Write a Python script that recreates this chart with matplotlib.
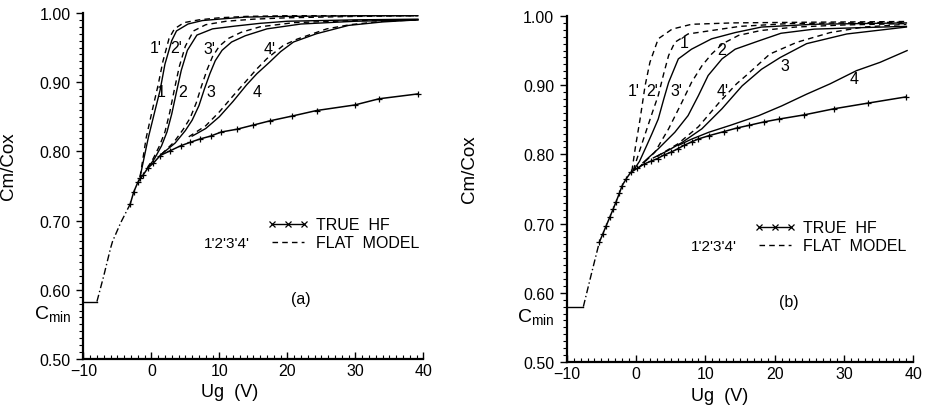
import matplotlib
matplotlib.use("Agg")
import matplotlib.pyplot as plt
from matplotlib.lines import Line2D
from matplotlib.ticker import MultipleLocator, FormatStrFormatter

plt.rcParams['font.family'] = ['Liberation Sans', 'DejaVu Sans']
plt.rcParams['mathtext.default'] = 'regular'

# ---------------- panel (a) ----------------
a_flat_ug = [-10, -8.0]
a_flat_c = [0.583, 0.583]
a_tail_ug = [-8.0, -7.0, -6.0, -5.7, -4.5, -3.1]
a_tail_c = [0.583, 0.620, 0.660, 0.670, 0.697, 0.724]

a_hf_ug = [-3.1, -2.6, -2.0, -1.6, -1.2, -0.5, 0.3, 1.3, 2.8, 4.3, 5.7, 7.2, 8.7,
           10.3, 12.6, 15.0, 17.4, 20.7, 24.3, 29.9, 33.5, 39.2]
a_hf_c = [0.724, 0.741, 0.755, 0.761, 0.766, 0.776, 0.783, 0.794, 0.801, 0.808, 0.813,
          0.818, 0.822, 0.828, 0.832, 0.838, 0.844, 0.851, 0.859, 0.867, 0.876, 0.883]

a_1_ug = [-1.66, -0.44, 0.54, 1.28, 2.0, 3.0, 3.7, 5.4, 7.5, 9.9, 13.8, 20, 30, 39.2]
a_1_c = [0.763, 0.820, 0.859, 0.888, 0.926, 0.960, 0.974, 0.984, 0.989, 0.991, 0.994, 0.995, 0.996, 0.996]
a_1p_ug = [-1.66, -0.75, 0.2, 1.0, 1.7, 2.6, 3.4, 4.8, 7, 10, 14, 20, 30, 39.2]
a_1p_c = [0.763, 0.820, 0.862, 0.896, 0.930, 0.963, 0.977, 0.986, 0.990, 0.993, 0.995, 0.996, 0.996, 0.996]

a_2_ug = [-0.5, 0.5, 1.5, 2.3, 3.0, 3.7, 4.4, 5.3, 6.7, 9.0, 12.3, 16, 20, 30, 39.2]
a_2_c = [0.776, 0.790, 0.808, 0.828, 0.854, 0.886, 0.917, 0.946, 0.968, 0.977, 0.981, 0.985, 0.988, 0.990, 0.991]
a_2p_ug = [-0.6, 0.3, 1.2, 2.0, 2.7, 3.4, 4.1, 5.0, 6.2, 8, 11, 15, 20, 30, 39.2]
a_2p_c = [0.776, 0.790, 0.808, 0.828, 0.856, 0.890, 0.922, 0.952, 0.974, 0.983, 0.988, 0.991, 0.993, 0.995, 0.996]

a_3_ug = [1.5, 3.5, 5.0, 6.0, 7.0, 7.8, 8.6, 9.4, 10.4, 11.8, 13.8, 17, 22, 30, 39.2]
a_3_c = [0.796, 0.812, 0.830, 0.845, 0.866, 0.890, 0.912, 0.931, 0.946, 0.958, 0.967, 0.977, 0.984, 0.988, 0.990]
a_3p_ug = [1.5, 3.3, 4.7, 5.7, 6.6, 7.4, 8.2, 9.0, 10.0, 11.3, 13.2, 16, 21, 30, 39.2]
a_3p_c = [0.796, 0.813, 0.832, 0.848, 0.870, 0.895, 0.918, 0.937, 0.952, 0.963, 0.972, 0.980, 0.986, 0.989, 0.990]

a_4_ug = [6.0, 8, 10, 12, 14, 15.5, 17.4, 19, 20.9, 24.3, 29, 34, 39.2]
a_4_c = [0.822, 0.833, 0.850, 0.872, 0.896, 0.912, 0.929, 0.944, 0.958, 0.970, 0.982, 0.987, 0.990]
a_4p_ug = [5.5, 8, 10, 12, 13.8, 15.5, 17, 19.4, 21.4, 25.8, 29.2, 34, 39.2]
a_4p_c = [0.821, 0.837, 0.857, 0.880, 0.900, 0.919, 0.934, 0.953, 0.962, 0.977, 0.983, 0.988, 0.990]

# ---------------- panel (b) ----------------
b_flat_ug = [-10, -7.6]
b_flat_c = [0.580, 0.580]
b_tail_ug = [-7.6, -6.5, -5.3]
b_tail_c = [0.580, 0.625, 0.673]

b_hf_ug = [-5.3, -4.8, -4.3, -3.8, -3.3, -2.9, -2.4, -2.0, -1.4, -0.77, 0.2, 1.15, 2.1,
           3.1, 4.0, 5.0, 6.0, 6.9, 8.0, 8.9, 10.5, 12.7, 14.5, 16.3, 18.5, 20.6, 24.2,
           28.6, 33.4, 38.9]
b_hf_c = [0.673, 0.685, 0.697, 0.709, 0.721, 0.731, 0.744, 0.755, 0.765, 0.774, 0.780,
          0.786, 0.790, 0.794, 0.799, 0.803, 0.808, 0.813, 0.818, 0.822, 0.827, 0.833,
          0.838, 0.842, 0.847, 0.851, 0.857, 0.866, 0.874, 0.883]

b_1_ug = [-0.3, 0.5, 1.5, 2.3, 3.2, 4.0, 4.7, 6.1, 8.0, 10.9, 14.3, 18.1, 25.6, 39.0]
b_1_c = [0.778, 0.790, 0.812, 0.830, 0.851, 0.880, 0.904, 0.938, 0.952, 0.967, 0.976, 0.984, 0.988, 0.990]
b_1p_ug = [-0.6, -0.1, 0.58, 1.3, 2.0, 3.2, 5.2, 8.0, 14, 25, 39]
b_1p_c = [0.776, 0.810, 0.851, 0.899, 0.933, 0.967, 0.981, 0.988, 0.990, 0.991, 0.992]

b_2_ug = [1.0, 3.2, 5.6, 7.5, 9.0, 10.4, 12.4, 14.3, 17.7, 20.9, 25.7, 32, 39]
b_2_c = [0.788, 0.808, 0.832, 0.856, 0.885, 0.914, 0.938, 0.952, 0.964, 0.975, 0.981, 0.983, 0.985]
b_2p_ug = [-0.4, 0.5, 1.5, 2.4, 3.2, 4.0, 4.7, 5.6, 7.5, 10.9, 15, 22, 39]
b_2p_c = [0.777, 0.805, 0.835, 0.862, 0.885, 0.917, 0.943, 0.962, 0.974, 0.979, 0.985, 0.989, 0.991]

b_3_ug = [2.5, 4.5, 6.6, 9.5, 12.4, 15.3, 18.1, 20.8, 24.6, 30.4, 39]
b_3_c = [0.795, 0.805, 0.817, 0.837, 0.866, 0.899, 0.923, 0.940, 0.960, 0.974, 0.984]
b_3p_ug = [0.3, 2.7, 4.7, 6.6, 8.0, 9.5, 10.9, 12.5, 14.8, 18, 23, 30, 39]
b_3p_c = [0.780, 0.803, 0.837, 0.875, 0.904, 0.928, 0.945, 0.960, 0.972, 0.979, 0.984, 0.987, 0.989]

b_4_ug = [6.1, 8.0, 10.5, 13.6, 17.7, 21, 24.6, 28.0, 31.8, 35.2, 39.1]
b_4_c = [0.813, 0.822, 0.832, 0.842, 0.856, 0.870, 0.887, 0.902, 0.921, 0.933, 0.950]
b_4p_ug = [3.0, 6.0, 9.0, 12.0, 14.5, 16.0, 19.3, 23.2, 28.0, 32.8, 39.0]
b_4p_c = [0.797, 0.815, 0.840, 0.875, 0.902, 0.915, 0.945, 0.962, 0.976, 0.984, 0.988]

y_ticks = [0.50, 0.60, 0.70, 0.80, 0.90, 1.00]
x_ticks = [-10, 0, 10, 20, 30, 40]

DASH = (0, (4, 3))
DASHDOT = (0, (5, 2, 1, 2))


def setup_axes(ax):
    ax.set_xlim(-10, 40)
    ax.set_ylim(0.5, 1.0)
    for s in ['top', 'right']:
        ax.spines[s].set_visible(False)
    for s in ['left', 'bottom']:
        ax.spines[s].set_linewidth(1.6)
    ax.set_xticks(x_ticks)
    ax.set_yticks(y_ticks)
    ax.xaxis.set_minor_locator(MultipleLocator(1))
    ax.yaxis.set_minor_locator(MultipleLocator(0.01))
    ax.yaxis.set_major_formatter(FormatStrFormatter('%.2f'))
    ax.tick_params(axis='x', which='major', direction='in', length=5, width=1, labelsize=11.5, pad=3)
    ax.tick_params(axis='x', which='minor', direction='in', length=3, width=0.8)
    ax.tick_params(axis='y', which='major', direction='out', length=5, width=1, labelsize=11.5, pad=4)
    ax.tick_params(axis='y', which='minor', direction='out', length=3, width=0.8)
    ax.set_xlabel('Ug  (V)', fontsize=13)
    ax.set_ylabel('Cm/Cox', fontsize=13.5)


def draw(ax, flat, tail, hf, solids, dashes, labels, tag):
    ax.plot(*flat, color='k', lw=1.0)
    ax.plot(*tail, color='k', lw=1.0, ls=DASHDOT)
    for ug, c in solids:
        ax.plot(ug, c, color='k', lw=1.0)
    for ug, c in dashes:
        ax.plot(ug, c, color='k', lw=1.0, ls=DASH)
    ax.plot(*hf, color='k', lw=1.1, marker='+', ms=4, mew=0.9)
    for txt, x, y in labels:
        ax.text(x, y, txt, fontsize=11.5, ha='center', va='center')
    h_hf = Line2D([], [], color='k', lw=1.0, marker='x', ms=4, mew=0.9)
    h_flat = Line2D([], [], color='k', lw=1.0, ls=DASH)
    ax.legend([h_hf, h_flat], ['TRUE  HF', 'FLAT  MODEL'], loc='upper left',
              bbox_to_anchor=(0.54, 0.41), frameon=False, borderpad=0, borderaxespad=0,
              handlelength=2.6, handletextpad=0.5, labelspacing=0.2, numpoints=3, fontsize=11.5)
    ax.text(0.49, 0.336, "1'2'3'4'", transform=ax.transAxes, fontsize=11, ha='right', va='center')
    ax.text(0.64, 0.175, tag, transform=ax.transAxes, fontsize=11.5, ha='center', va='center')
    ax.text(-0.035, 0.566, r'C$_{min}$', transform=ax.get_yaxis_transform(), fontsize=14,
            ha='right', va='center')


fig = plt.figure(figsize=(9.28, 4.10), dpi=100)
ax_a = fig.add_axes([0.0898, 0.122, 0.3664, 0.844])
ax_b = fig.add_axes([0.6107, 0.1146, 0.3735, 0.844])

for ax in (ax_a, ax_b):
    setup_axes(ax)

draw(ax_a, (a_flat_ug, a_flat_c), (a_tail_ug, a_tail_c), (a_hf_ug, a_hf_c),
     [(a_1_ug, a_1_c), (a_2_ug, a_2_c), (a_3_ug, a_3_c), (a_4_ug, a_4_c)],
     [(a_1p_ug, a_1p_c), (a_2p_ug, a_2p_c), (a_3p_ug, a_3p_c), (a_4p_ug, a_4p_c)],
     [("1'", 0.6, 0.950), ("2'", 3.7, 0.950), ("3'", 8.5, 0.948), ("4'", 17.4, 0.948),
      ("1", 1.5, 0.886), ("2", 4.6, 0.886), ("3", 8.7, 0.886), ("4", 15.6, 0.886)],
     '(a)')
draw(ax_b, (b_flat_ug, b_flat_c), (b_tail_ug, b_tail_c), (b_hf_ug, b_hf_c),
     [(b_1_ug, b_1_c), (b_2_ug, b_2_c), (b_3_ug, b_3_c), (b_4_ug, b_4_c)],
     [(b_1p_ug, b_1p_c), (b_2p_ug, b_2p_c), (b_3p_ug, b_3p_c), (b_4p_ug, b_4p_c)],
     [("1'", -0.4, 0.893), ("2'", 2.3, 0.893), ("3'", 5.8, 0.893), ("4'", 12.5, 0.893),
      ("1", 6.9, 0.961), ("2", 12.4, 0.952), ("3", 21.5, 0.928), ("4", 31.4, 0.909)],
     '(b)')

ax_a.yaxis.set_label_coords(-0.195, 0.56)
ax_b.yaxis.set_label_coords(-0.255, 0.56)
ax_a.xaxis.set_label_coords(0.43, -0.068)
ax_b.xaxis.set_label_coords(0.44, -0.072)

fig.savefig('out.png', dpi=100)
